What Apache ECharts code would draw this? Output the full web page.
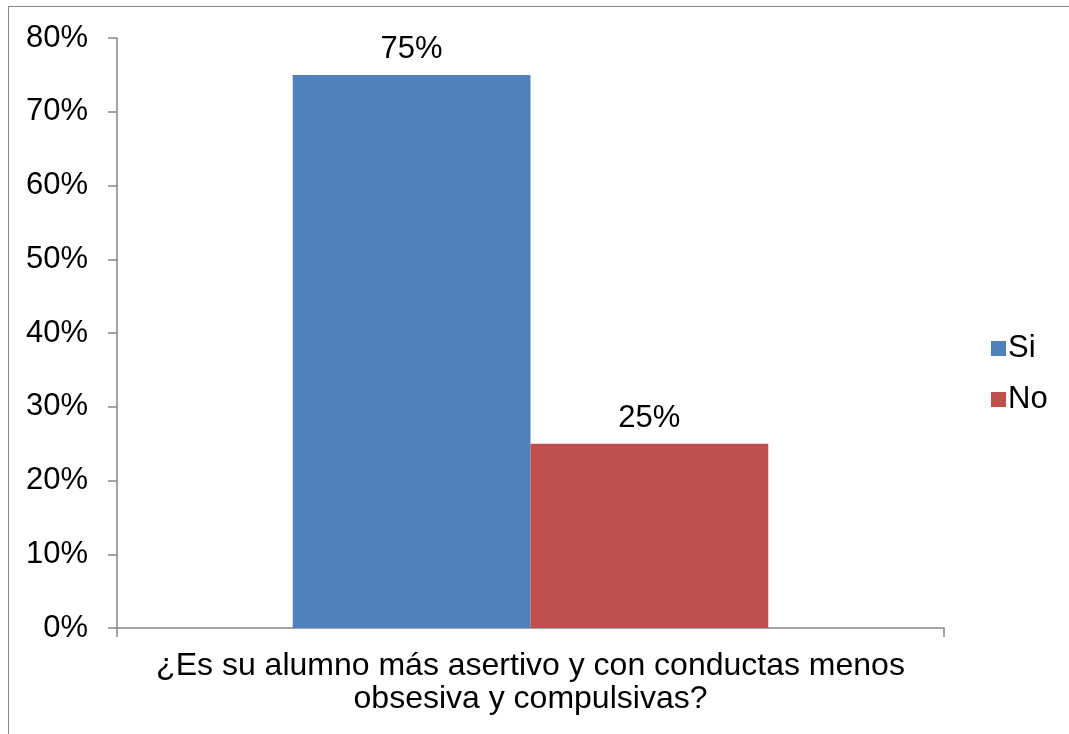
<!DOCTYPE html>
<html>
<head>
<meta charset="utf-8">
<script src="https://cdn.jsdelivr.net/npm/echarts@6/dist/echarts.min.js"></script>
<style>
html,body{margin:0;padding:0;background:#fff;}
#frame{position:absolute;left:8px;top:6px;width:1100px;height:800px;border:1px solid #888;border-right:none;border-bottom:none;box-sizing:border-box;}
#chart{position:absolute;left:0;top:0;width:1069px;height:734px;}
</style>
</head>
<body>
<div id="frame"></div>
<div id="chart"></div>
<script>
const categories = ['¿Es su alumno más asertivo y con conductas menos\nobsesiva y compulsivas?'];
const seriesNames = ['Si', 'No'];
const siValues = [0.75];
const noValues = [0.25];
const colors = ['#4F81BD', '#C0504D'];

const chart = echarts.init(document.getElementById('chart'));
const font = 'Liberation Sans, Arial, sans-serif';
const fs = 31;
const labelCfg = {
  show: true, position: 'top', distance: 10,
  fontFamily: font, fontSize: fs, color: '#000',
  formatter: p => Math.round(p.value * 100) + '%'
};
chart.setOption({
  animation: false,
  grid: {left: 117, right: 125, top: 38, bottom: 106, containLabel: false},
  legend: {
    orient: 'vertical', left: 986, top: 328, itemGap: 20,
    itemWidth: 15, itemHeight: 15, icon: 'rect',
    textStyle: {fontFamily: font, fontSize: fs, color: '#000', padding: [0,0,0,-3]},
    data: seriesNames
  },
  xAxis: {
    type: 'category', data: categories,
    axisLine: {lineStyle: {color: '#868686', width: 1.5}},
    axisTick: {show: true, length: 9, lineStyle: {color: '#868686', width: 1.5}},
    axisLabel: {fontFamily: font, fontSize: 32, color: '#000', lineHeight: 33, margin: 22}
  },
  yAxis: {
    type: 'value', min: 0, max: 0.8, interval: 0.1,
    splitLine: {show: false},
    axisLine: {show: true, lineStyle: {color: '#868686', width: 1.5}},
    axisTick: {show: true, length: 9, lineStyle: {color: '#868686', width: 1.5}},
    axisLabel: {fontFamily: font, fontSize: fs, color: '#000', margin: 29,
      formatter: v => Math.round(v * 100) + '%'}
  },
  series: [
    {name: seriesNames[0], type: 'bar', data: siValues, itemStyle: {color: colors[0]},
     barGap: '0%', barCategoryGap: '42.5%', label: labelCfg},
    {name: seriesNames[1], type: 'bar', data: noValues, itemStyle: {color: colors[1]},
     barGap: '0%', barCategoryGap: '42.5%', label: labelCfg}
  ]
});
</script>
</body>
</html>
